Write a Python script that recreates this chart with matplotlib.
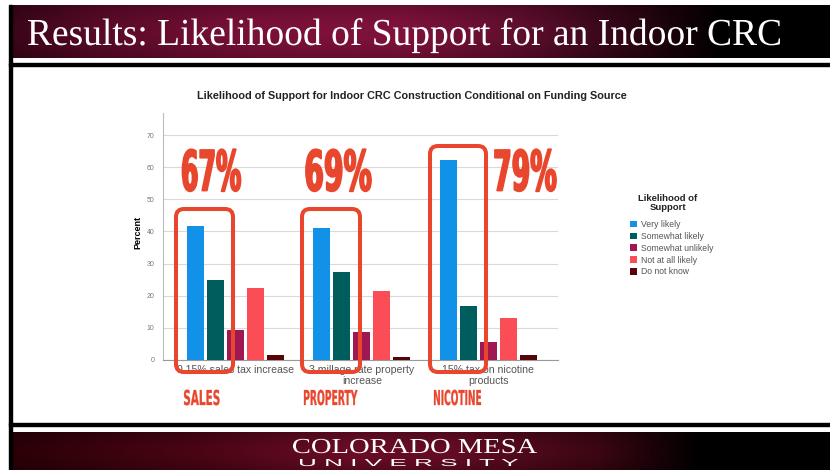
"""Likelihood of support for an indoor CRC, split by funding source."""
import matplotlib
matplotlib.use("Agg")
import matplotlib.pyplot as plt
import numpy as np
from matplotlib import patheffects
from matplotlib.font_manager import FontProperties
from matplotlib.patches import FancyBboxPatch, Rectangle
from matplotlib.textpath import TextPath
from matplotlib.transforms import Affine2D

W, H, DPI = 830, 470, 100

sources = ["0.15% sales tax increase",
           "3 millage rate property\nincrease",
           "15% tax on nicotine\nproducts"]
short_names = ["SALES", "PROPERTY", "NICOTINE"]
responses = ["Very likely", "Somewhat likely", "Somewhat unlikely",
             "Not at all likely", "Do not know"]
very_likely = [41.8, 41.2, 62.3]
somewhat_likely = [25.0, 27.5, 16.8]
somewhat_unlikely = [9.2, 8.6, 5.7]
not_at_all_likely = [22.4, 21.5, 13.2]
do_not_know = [1.6, 0.8, 1.5]
y_ticks = [0, 10, 20, 30, 40, 50, 60, 70]

BAR_COLORS = ["#1192e8", "#005d5d", "#9f1853", "#fa4d56", "#570408"]
ACCENT = "#e8472e"
NARROW = ["Liberation Sans Narrow", "DejaVu Sans"]


class Stretch(patheffects.AbstractPathEffect):
    """Scale glyph outlines about the text origin, optionally fattening the strokes."""

    def __init__(self, sx, sy, lw=0):
        super().__init__()
        self.sx, self.sy, self.lw = sx, sy, lw

    def draw_path(self, renderer, gc, tpath, affine, rgbFace=None):
        tr = Affine2D().scale(self.sx, self.sy) + affine
        if self.lw:
            gc0 = renderer.new_gc()
            gc0.copy_properties(gc)
            gc0.set_linewidth(self.lw)
            gc0.set_foreground(rgbFace)
            gc0.set_joinstyle("round")
            renderer.draw_path(gc0, tpath, tr, rgbFace)
            gc0.restore()
        else:
            renderer.draw_path(gc, tpath, tr, rgbFace)


def fit_text(ax, s, x0, x1, base, cap, family, weight="normal", color="white", lw=0):
    # pixel box: ink from x0 to x1, capitals `cap` px tall standing on `base`
    k = DPI / 72
    probe = FontProperties(family=family, weight=weight, size=100)
    cap_h = TextPath((0, 0), "H", size=100, prop=probe).get_extents().y1
    size = 100 * cap / (cap_h * k)
    fp = FontProperties(family=family, weight=weight, size=size)
    ext = TextPath((0, 0), s, size=size, prop=fp).get_extents()
    sx = (x1 - x0) / (ext.width * k)
    ax.text(x0 - ext.x0 * k * sx, base, s, fontproperties=fp, color=color,
            ha="left", va="baseline", path_effects=[Stretch(sx, 1.0, lw)])


def banner(ax, y0, y1, stops_x, stops_rgb):
    xs = np.arange(9, W + 1)
    rgb = np.array(stops_rgb) / 255.0
    row = np.stack([np.interp(xs, stops_x, rgb[:, c]) for c in range(3)], axis=-1)
    t = np.linspace(0, 1, int(y1 - y0))[:, None, None]
    img = row[None, :, :] * (0.8 + 0.2 * np.sin(np.pi * t))
    ax.imshow(img, extent=(9, W, y1, y0), aspect="auto", interpolation="bilinear", zorder=1)


fig = plt.figure(figsize=(W / DPI, H / DPI), dpi=DPI, facecolor="white")

# slide frame, header and footer
bg = fig.add_axes([0, 0, 1, 1], zorder=0)
bg.set_xlim(0, W)
bg.set_ylim(H, 0)
bg.axis("off")
banner(bg, 5, 58, [9, 100, 250, 400, 520, 640, 720, 830],
       [(58, 5, 24), (90, 10, 40), (122, 16, 56), (128, 18, 60),
        (96, 14, 46), (42, 5, 18), (0, 0, 0), (0, 0, 0)])
banner(bg, 432, 470, [9, 200, 350, 450, 600, 700, 830],
       [(42, 0, 6), (74, 5, 20), (106, 12, 37), (100, 12, 36),
        (58, 6, 18), (0, 0, 0), (0, 0, 0)])
bg.add_patch(Rectangle((9, 63), W - 9, 2.5, color="black", zorder=2))
bg.add_patch(Rectangle((9, 423), W - 9, 3, color="black", zorder=2))
bg.add_patch(Rectangle((9, 5), 2.5, H - 5, color="black", zorder=2))
fit_text(bg, "Results: Likelihood of Support for an Indoor CRC", 28, 780, 45, 25,
         "Liberation Serif")
fit_text(bg, "COLORADO MESA", 293, 537, 453, 14, "Liberation Serif")
fit_text(bg, "U N I V E R S I T Y", 300, 518, 466, 7, "Liberation Sans")

# bar chart
ax = fig.add_axes([163 / W, 1 - 360 / H, 395 / W, 247.5 / H], zorder=1)
ax.patch.set_alpha(0)
series = [very_likely, somewhat_likely, somewhat_unlikely, not_at_all_likely, do_not_know]
x = np.arange(len(sources))
step, width = 0.158, 0.134
bars = []
for j, (vals, col) in enumerate(zip(series, BAR_COLORS)):
    bars.append(ax.bar(x + (j - 2) * step, vals, width, color=col, zorder=3))
ax.set_xlim(-0.57, 2.55)
ax.set_ylim(0, 77)
ax.set_yticks(y_ticks)
ax.set_xticks(x, sources)
ax.tick_params(axis="y", length=0, pad=6, labelsize=5, labelcolor="#777777")
ax.tick_params(axis="x", length=0, pad=3.5, labelsize=7.6, labelcolor="#555555")
for lab in ax.get_xticklabels() + ax.get_yticklabels():
    lab.set_family("Liberation Sans")
for lab in ax.get_xticklabels():
    lab.set_multialignment("center")
    lab.set_linespacing(1.1)
ax.grid(axis="y", color="#d9d9d9", lw=0.8, zorder=0)
for side in ("top", "right"):
    ax.spines[side].set_visible(False)
ax.spines["left"].set_color("#bbbbbb")
ax.spines["left"].set_linewidth(0.8)
ax.spines["bottom"].set_color("#999999")
ax.spines["bottom"].set_linewidth(0.8)
ax.set_ylabel("Percent", fontsize=6.5, fontweight="bold", family="Liberation Sans")
ax.yaxis.set_label_coords(-0.053, 0.517)

fig.text(412 / W, 1 - 96 / H, "Likelihood of Support for Indoor CRC Construction "
         "Conditional on Funding Source", ha="center", va="center", fontsize=7.8,
         fontweight="bold", family="Liberation Sans", color="#222222")

fig.text(668 / W, 1 - 203 / H, "Likelihood of\nSupport", ha="center", va="center",
         multialignment="center", linespacing=1.05, fontsize=6.8, fontweight="bold",
         family="Liberation Sans", color="#222222")
leg = fig.legend(bars, responses, loc="upper left", bbox_to_anchor=(630 / W, 1 - 220 / H),
                 frameon=False, prop={"family": "Liberation Sans", "size": 6.2},
                 handlelength=0.8, handleheight=0.8, handletextpad=0.5,
                 labelspacing=0.33, borderpad=0, borderaxespad=0)
for t in leg.get_texts():
    t.set_color("#555555")

# highlighted "likely" shares per funding source
fg = fig.add_axes([0, 0, 1, 1], zorder=2)
fg.set_xlim(0, W)
fg.set_ylim(H, 0)
fg.axis("off")
boxes = [(176, 209, 233), (302, 209, 360), (430, 146, 486)]
for bx0, by0, bx1 in boxes:
    fg.add_patch(FancyBboxPatch((bx0, by0), bx1 - bx0, 372 - by0,
                                boxstyle="round,pad=0,rounding_size=8",
                                fill=False, ec=ACCENT, lw=2.9))
pct_spans = [(182.5, 240.5), (306, 371), (495, 556)]
for v, s, (px0, px1) in zip(very_likely, somewhat_likely, pct_spans):
    fit_text(fg, f"{round(v + s)}%", px0, px1, 190.5, 40.5, NARROW, weight="bold",
             color=ACCENT, lw=1.3)
name_spans = [(184, 219.5), (304, 357.5), (434, 481)]
for name, (nx0, nx1) in zip(short_names, name_spans):
    fit_text(fg, name, nx0, nx1, 405, 15, NARROW, weight="bold", color=ACCENT, lw=0.2)

fig.savefig("out.png", dpi=DPI)
